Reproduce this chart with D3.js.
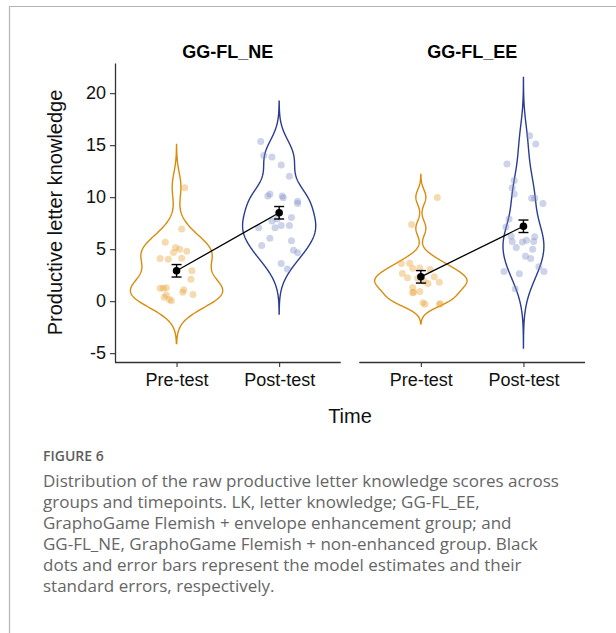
<!DOCTYPE html>
<html>
<head>
<meta charset="utf-8">
<script src="https://cdn.jsdelivr.net/npm/d3@7"></script>
<style>
  body { margin: 0; background: #fff; }
  svg { display: block; }
</style>
</head>
<body>
<div id="my_dataviz"></div>
<script>
// categories
const timepoints = ["Pre-test", "Post-test"];
const groups = ["GG-FL_NE", "GG-FL_EE"];
const yTicks = [-5, 0, 5, 10, 15, 20];

// raw scores as plotted (jittered) + horizontal jitter as fraction of the category step
const nePreScore  = [10.9, 6.95, 5.67, 5.16, 5.0, 4.8, 4.68, 4.1, 4.04, 4.13, 2.92, 2.1, 1.25, 1.25, 1.3, 1.1, 0.85, 0.64, 0.38, 0.15, 0.05, 0.6];
const nePreJitter = [0.08, 0.05, -0.11, -0.01, 0.03, 0.10, -0.03, -0.16, -0.08, 0.05, 0.15, 0.14, -0.16, -0.13, -0.10, 0.07, 0.06, 0.16, -0.12, -0.07, -0.05, -0.10];
const nePostScore  = [15.36, 14.0, 13.85, 13.1, 12.0, 10.3, 10.1, 10.1, 9.95, 9.6, 9.4, 8.05, 7.7, 7.9, 7.28, 7.28, 7.05, 7.05, 6.06, 5.8, 5.35, 4.9, 4.65, 3.62, 3.1];
const nePostJitter = [-0.18, -0.15, -0.07, 0.02, 0.10, -0.09, -0.11, 0.03, 0.04, 0.18, 0.18, 0.12, -0.07, -0.02, 0.02, 0.10, -0.20, -0.04, -0.09, 0.12, -0.17, 0.14, 0.18, 0.02, 0.08];
const eePreScore  = [9.97, 7.37, 3.62, 3.65, 3.17, 3.2, 3.05, 2.66, 2.24, 2.2, 2.34, 1.92, 1.7, 1.83, 1.31, 0.8, 0.85, 0.93, -0.16, -0.29, -0.3, -0.25];
const eePreJitter = [0.16, -0.09, -0.19, -0.11, -0.08, -0.01, 0.09, -0.18, -0.13, -0.03, 0.13, 0.03, 0.07, 0.18, -0.08, -0.08, -0.07, -0.01, 0.02, 0.04, 0.18, 0.19];
const eePostScore  = [15.9, 15.1, 13.2, 11.6, 10.9, 10.3, 9.9, 9.9, 9.4, 7.9, 7.14, 6.25, 5.74, 5.7, 5.86, 5.74, 6.2, 5.16, 5.0, 4.33, 4.1, 2.85, 2.63, 2.85, 3.3, 1.2];
const eePostJitter = [0.06, 0.12, -0.16, -0.09, -0.11, -0.09, 0.08, 0.11, 0.19, -0.14, -0.17, -0.12, -0.11, -0.01, 0.03, 0.10, 0.11, -0.07, 0.09, 0.02, 0.07, -0.19, -0.04, 0.20, 0.15, -0.08];

// model estimates and standard errors (pre, post)
const neEstimate = [2.92, 8.5];
const neSE = [0.6, 0.6];
const eeEstimate = [2.34, 7.2];
const eeSE = [0.6, 0.6];

const caption = [
  "Distribution of the raw productive letter knowledge scores across",
  "groups and timepoints. LK, letter knowledge; GG-FL_EE,",
  "GraphoGame Flemish + envelope enhancement group; and",
  "GG-FL_NE, GraphoGame Flemish + non-enhanced group. Black",
  "dots and error bars represent the model estimates and their",
  "standard errors, respectively."
];

const panels = [
  { title: groups[0], score: [nePreScore, nePostScore], jitter: [nePreJitter, nePostJitter], est: neEstimate, se: neSE },
  { title: groups[1], score: [eePreScore, eePostScore], jitter: [eePreJitter, eePostJitter], est: eeEstimate, se: eeSE }
];

const W = 616, H = 633;
const colors = ["#D98B0C", "#2B3C90"];
const pointFill = ["#E8A43C", "#8391C9"];
const font = "'Liberation Sans', Arial, sans-serif";

const svg = d3.select("#my_dataviz")
  .append("svg")
    .attr("width", W)
    .attr("height", H);

// figure frame
svg.append("path")
  .attr("d", `M9.5,${H} V6.5 H${W}`)
  .attr("fill", "none")
  .attr("stroke", "#b5b5b5")
  .attr("stroke-width", 1.2);

const plotTop = 63, plotBottom = 362;
const panelX = [[115, 340.7], [359.3, 585]];

const y = d3.scaleLinear()
  .domain([-5.85, 22.9])
  .range([plotBottom, plotTop]);

// bandwidth like R's nrd0
function nrd0(v) {
  const s = v.slice().sort(d3.ascending);
  const sd = d3.deviation(s);
  const iqr = d3.quantile(s, 0.75) - d3.quantile(s, 0.25);
  let lo = Math.min(sd, iqr / 1.34);
  if (!lo) lo = sd || 1;
  return 0.9 * lo * Math.pow(s.length, -0.2);
}

function kde(v) {
  // jitter was vertical too, scores are integers
  const raw = v.map(Math.round);
  const bw = nrd0(raw);
  const lo = d3.min(raw) - 3 * bw, hi = d3.max(raw) + 3 * bw;
  const n = 256;
  return d3.range(n).map(i => {
    const t = lo + (hi - lo) * i / (n - 1);
    const d = d3.mean(raw, r => Math.exp(-0.5 * ((t - r) / bw) ** 2)) / (bw * Math.sqrt(2 * Math.PI));
    return [t, d];
  });
}

panels.forEach((p, pi) => {
  const x = d3.scalePoint()
    .domain(timepoints)
    .range(panelX[pi])
    .padding(0.6);
  const step = x.step();

  const g = svg.append("g");

  // strip title
  g.append("text")
    .attr("x", (panelX[pi][0] + panelX[pi][1]) / 2)
    .attr("y", 58)
    .attr("text-anchor", "middle")
    .style("font-family", font)
    .style("font-size", "18px")
    .style("font-weight", "bold")
    .text(p.title);

  // violins, area scaled within panel
  const dens = p.score.map(kde);
  const maxD = d3.max(dens, d => d3.max(d, e => e[1]));
  const halfW = 0.45 * step;

  dens.forEach((d, ti) => {
    const cx = x(timepoints[ti]);
    const area = d3.area()
      .y(e => y(e[0]))
      .x0(e => cx - e[1] / maxD * halfW)
      .x1(e => cx + e[1] / maxD * halfW);
    g.append("path")
      .datum(d)
      .attr("d", area)
      .attr("fill", "none")
      .attr("stroke", colors[ti])
      .attr("stroke-width", 1.4);
  });

  // jittered points
  p.score.forEach((s, ti) => {
    g.append("g")
      .selectAll("circle")
      .data(s.map((v, i) => ({ v: v, j: p.jitter[ti][i] })))
      .join("circle")
        .attr("cx", d => x(timepoints[ti]) + d.j * step)
        .attr("cy", d => y(d.v))
        .attr("r", 3.5)
        .style("fill", pointFill[ti])
        .style("fill-opacity", 0.4);
  });

  // model estimates
  const est = timepoints.map((t, i) => ({ t: t, m: p.est[i], se: p.se[i] }));
  g.append("path")
    .datum(est)
    .attr("d", d3.line().x(d => x(d.t)).y(d => y(d.m)))
    .attr("fill", "none")
    .attr("stroke", "#000")
    .attr("stroke-width", 1.3);

  const eb = g.append("g").selectAll("g")
    .data(est)
    .join("g")
      .attr("stroke", "#000")
      .attr("stroke-width", 1.4);
  eb.append("line")
    .attr("x1", d => x(d.t)).attr("x2", d => x(d.t))
    .attr("y1", d => y(d.m - d.se)).attr("y2", d => y(d.m + d.se));
  eb.append("line")
    .attr("x1", d => x(d.t) - 5).attr("x2", d => x(d.t) + 5)
    .attr("y1", d => y(d.m - d.se)).attr("y2", d => y(d.m - d.se));
  eb.append("line")
    .attr("x1", d => x(d.t) - 5).attr("x2", d => x(d.t) + 5)
    .attr("y1", d => y(d.m + d.se)).attr("y2", d => y(d.m + d.se));

  g.append("g").selectAll("circle")
    .data(est)
    .join("circle")
      .attr("cx", d => x(d.t))
      .attr("cy", d => y(d.m))
      .attr("r", 3.8)
      .attr("fill", "#000");

  // x axis
  const xAxis = g.append("g")
    .attr("transform", `translate(0,${plotBottom})`)
    .call(d3.axisBottom(x).tickSize(5).tickSizeOuter(0).tickPadding(6));
  xAxis.select(".domain")
    .attr("d", `M${panelX[pi][0]},0.5H${panelX[pi][1]}`)
    .attr("stroke", "#333").attr("stroke-width", 1.3);
  xAxis.selectAll(".tick line").attr("stroke", "#333").attr("stroke-width", 1.1);
  xAxis.selectAll(".tick text")
    .style("font-family", font)
    .style("font-size", "18px")
    .attr("fill", "#111");

  // y axis only on the first panel
  if (pi === 0) {
    const yAxis = g.append("g")
      .attr("transform", `translate(${panelX[0][0]},0)`)
      .call(d3.axisLeft(y).tickValues(yTicks).tickFormat(d => String(d))
        .tickSize(5).tickSizeOuter(0).tickPadding(4));
    yAxis.select(".domain").attr("stroke", "#333").attr("stroke-width", 1.3);
    yAxis.selectAll(".tick line").attr("stroke", "#333").attr("stroke-width", 1.1);
    yAxis.selectAll(".tick text")
      .style("font-family", font)
      .style("font-size", "18px")
      .attr("fill", "#111");
  }
});

// axis titles
svg.append("text")
  .attr("transform", `translate(62,${(plotTop + plotBottom) / 2}) rotate(-90)`)
  .attr("text-anchor", "middle")
  .style("font-family", font)
  .style("font-size", "20px")
  .attr("fill", "#111")
  .text("Productive letter knowledge");

svg.append("text")
  .attr("x", (panelX[0][0] + panelX[1][1]) / 2)
  .attr("y", 423)
  .attr("text-anchor", "middle")
  .style("font-family", font)
  .style("font-size", "20px")
  .attr("fill", "#111")
  .text("Time");

// caption
svg.append("text")
  .attr("x", 43)
  .attr("y", 461)
  .style("font-family", "'Open Sans', sans-serif")
  .style("font-size", "14px")
  .style("font-weight", 600)
  .attr("fill", "#5e5e5e")
  .text("FIGURE 6");

svg.append("g")
  .selectAll("text")
  .data(caption)
  .join("text")
    .attr("x", 43)
    .attr("y", (d, i) => 487 + i * 21)
    .style("font-family", "'Open Sans', sans-serif")
    .style("font-size", "17px")
    .attr("fill", "#666")
    .text(d => d);
</script>
</body>
</html>
